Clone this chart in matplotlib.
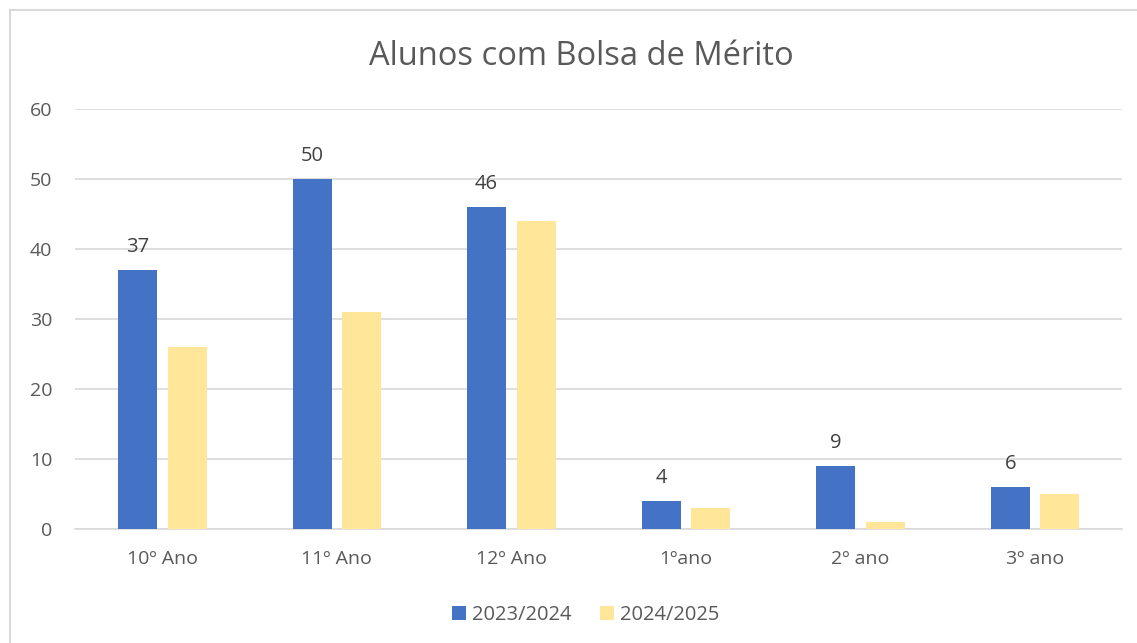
import matplotlib.pyplot as plt
import numpy as np
from matplotlib.patches import Rectangle

categories = ['10º Ano', '11º Ano', '12º Ano', '1ºano', '2º ano', '3º ano']
series_names = ['2023/2024', '2024/2025']
values_2324 = [37, 50, 46, 4, 9, 6]
values_2425 = [26, 31, 44, 3, 1, 5]

plt.rcParams['font.family'] = ['Open Sans', 'DejaVu Sans']
txt = '#595959'

fig = plt.figure(figsize=(11.37, 6.43), dpi=100)
ax = fig.add_axes([0.066, 0.1773, 0.921, 0.6532])

# chart border (left and top visible)
fig.patches.append(Rectangle((10 / 1137, -0.1), 1.2, 1 - 10 / 643 + 0.1,
                             transform=fig.transFigure, fill=False,
                             edgecolor='#D9D9D9', linewidth=1.5))

x = np.arange(len(categories))
w = 0.223
b1 = ax.bar(x - 0.142, values_2324, w, color='#4472C4', label=series_names[0], zorder=3)
b2 = ax.bar(x + 0.142, values_2425, w, color='#FFE699', label=series_names[1], zorder=3)

for rect, v in zip(b1, values_2324):
    ax.text(rect.get_x() + rect.get_width() / 2, v + 1.8, str(v),
            ha='center', va='bottom', fontsize=14.5, color='#404040')

ax.set_xlim(-0.5, len(categories) - 0.5)
ax.set_ylim(0, 60)
ax.set_yticks(range(0, 61, 10))
ax.set_xticks(x)
ax.set_xticklabels(categories)
ax.tick_params(axis='both', length=0, labelsize=14, colors=txt)
ax.tick_params(axis='y', pad=16.5)
ax.tick_params(axis='x', pad=15)
ax.grid(axis='y', color='#D9D9D9', linewidth=1.2, zorder=0)
for s in ['top', 'right', 'left']:
    ax.spines[s].set_visible(False)
ax.spines['bottom'].set_color('#D9D9D9')
ax.spines['bottom'].set_linewidth(1.2)

fig.text(0.511, 0.912, 'Alunos com Bolsa de Mérito', ha='center', va='center',
         fontsize=23.5, color=txt)

fig.legend(loc='center', bbox_to_anchor=(0.515, 0.044), ncol=2, frameon=False,
           fontsize=14.5, labelcolor=txt, handlelength=0.7, handleheight=0.7,
           handletextpad=0.3, columnspacing=1.4)

fig.savefig('out.png', dpi=100)
